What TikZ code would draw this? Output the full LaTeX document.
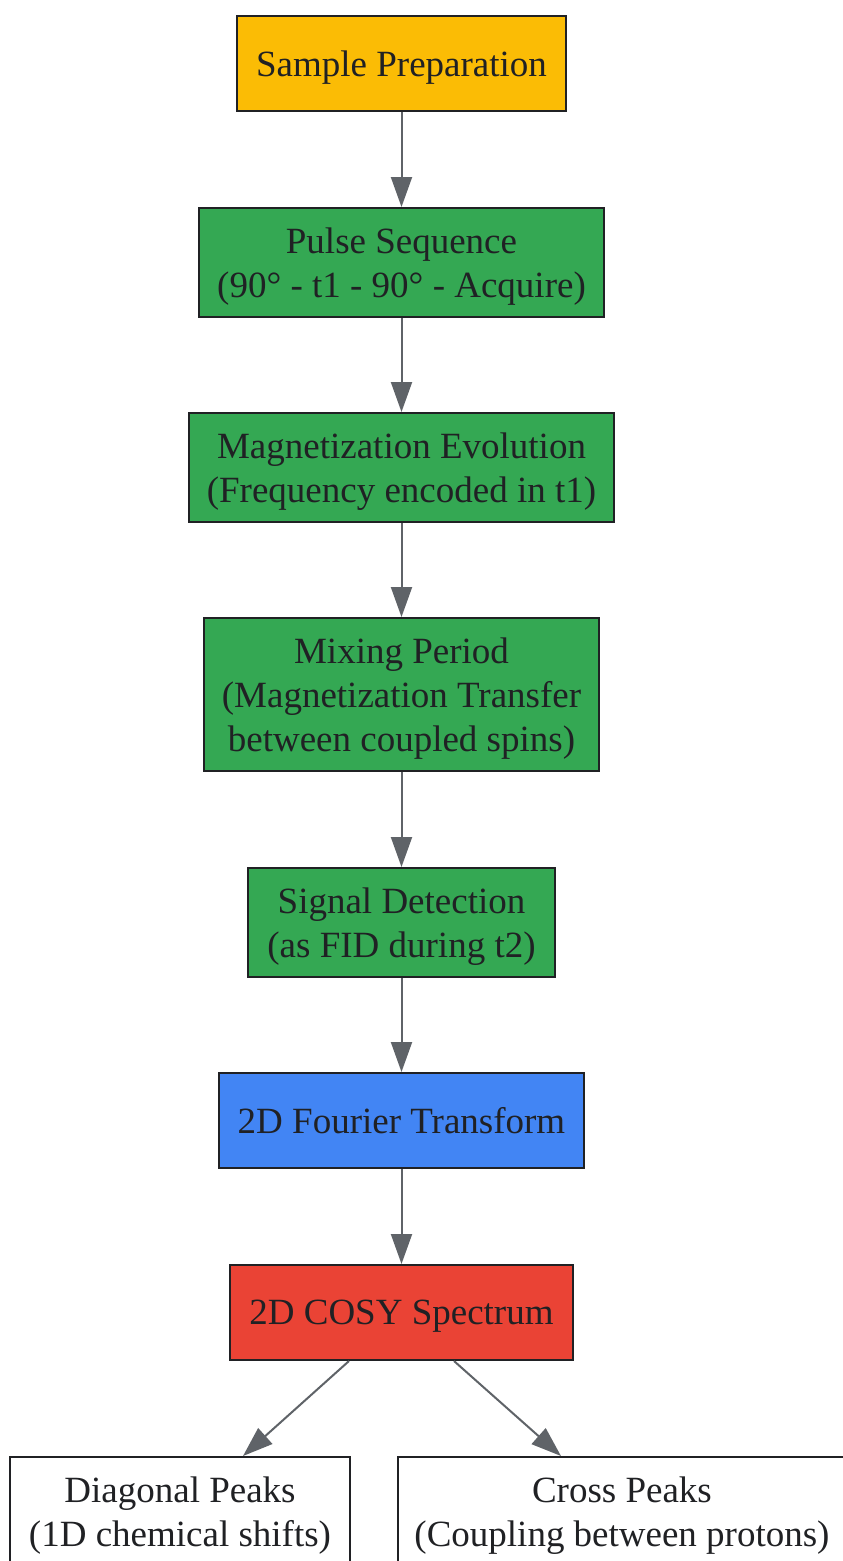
\documentclass[tikz,border=0pt]{standalone}
\usepackage{fontspec}
\setmainfont{Liberation Serif}
\usetikzlibrary{arrows.meta,calc}
\definecolor{gyellow}{HTML}{FBBC05}
\definecolor{ggreen}{HTML}{34A853}
\definecolor{gblue}{HTML}{4285F4}
\definecolor{gred}{HTML}{EA4335}
\definecolor{bordercol}{HTML}{202124}
\definecolor{edgecol}{HTML}{5F6368}
\definecolor{textcol}{HTML}{202124}
\tikzset{
  box/.style={draw=bordercol, line width=2pt, rectangle, inner sep=0pt, align=center,
    text=textcol, font=\fontsize{37}{44}\selectfont, text depth=0pt},
  edge/.style={draw=edgecol, line width=2pt, -{Triangle[length=30pt,width=21pt]}}
}
\begin{document}
\begin{tikzpicture}[x=1pt,y=-1pt]
\useasboundingbox (0,0) rectangle (843,1561);
\clip (0,0) rectangle (843,1561);
\node[box, fill=gyellow, minimum width=329pt, minimum height=95pt] (prep) at (401.5,63.5) {Sample Preparation};
\node[box, fill=ggreen, minimum width=405pt, minimum height=109pt] (pulse) at (401.5,262.5) {Pulse Sequence\\(90° - t1 - 90° - Acquire)};
\node[box, fill=ggreen, minimum width=425pt, minimum height=109pt] (evol) at (401.5,467.5) {Magnetization Evolution\\(Frequency encoded in t1)};
\node[box, fill=ggreen, minimum width=395pt, minimum height=153pt] (mix) at (401.5,694.5) {Mixing Period\\(Magnetization Transfer\\between coupled spins)};
\node[box, fill=ggreen, minimum width=307pt, minimum height=109pt] (detect) at (401.5,922.5) {Signal Detection\\(as FID during t2)};
\node[box, fill=gblue, minimum width=365pt, minimum height=95pt] (ft) at (401.5,1120.5) {2D Fourier Transform};
\node[box, fill=gred, minimum width=343pt, minimum height=95pt] (cosy) at (401.5,1312.5) {2D COSY Spectrum};
\node[box, fill=white, minimum width=340pt, minimum height=109pt] (diag) at (180,1511.5) {Diagonal Peaks\\(1D chemical shifts)};
\node[box, fill=white, minimum width=448pt, minimum height=109pt] (cross) at (622,1511.5) {Cross Peaks\\(Coupling between protons)};
\draw[edge] (prep) -- (pulse);
\draw[edge] (pulse) -- (evol);
\draw[edge] (evol) -- (mix);
\draw[edge] (mix) -- (detect);
\draw[edge] (detect) -- (ft);
\draw[edge] (ft) -- (cosy);
\coordinate (cl) at ($(cosy.south)+(-52.5,0)$);
\coordinate (cr) at ($(cosy.south)+(52.5,0)$);
\coordinate (dl) at ($(diag.north)+(63,0)$);
\coordinate (dr) at ($(cross.north)+(-61,0)$);
\draw[edge] (cl) -- (dl);
\draw[edge] (cr) -- (dr);
\end{tikzpicture}
\end{document}
